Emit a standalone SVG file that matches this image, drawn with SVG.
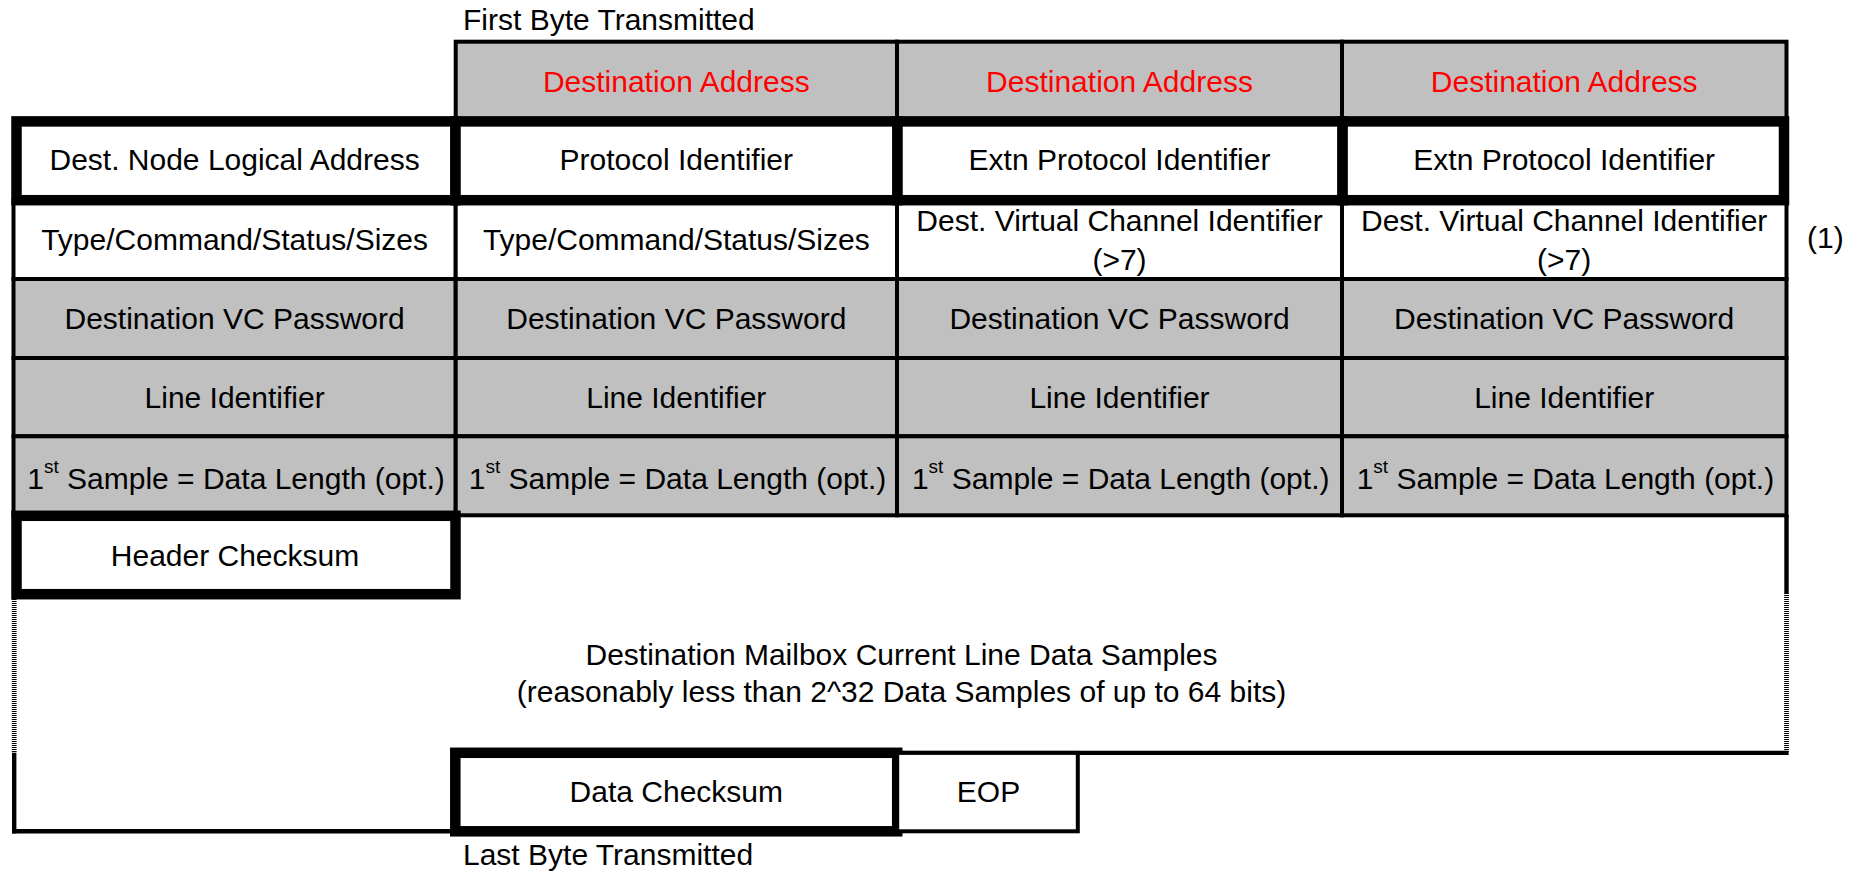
<svg xmlns="http://www.w3.org/2000/svg" width="1854" height="874" viewBox="0 0 1854 874">
  <style>
    text { font-family: "Liberation Sans", Arial, sans-serif; font-size: 30px; fill: #000; text-anchor: middle; }
    text.lbl { text-anchor: start; }
    text.addr { fill: #FF0000; }
    .grey { fill: #C0C0C0; stroke: #000; stroke-width: 4; }
    .white { fill: #FFFFFF; stroke: #000; stroke-width: 4; }
    .thick { fill: #FFFFFF; stroke: #000; stroke-width: 10.5; }
    .edge { fill: none; stroke: #000; stroke-width: 4.4; }
    .hatch { fill: none; stroke: #000; stroke-width: 4.8; stroke-dasharray: 1 1; }
  </style>

  <rect width="1854" height="874" fill="#FFFFFF"/>

  <!-- frame of the data field and continuation edges -->
  <g id="connectors">
    <line class="edge" x1="1786.5" y1="515" x2="1786.5" y2="593"/>
    <line class="hatch" x1="1786.5" y1="593" x2="1786.5" y2="753"/>
    <line class="hatch" x1="14.2" y1="599" x2="14.2" y2="753"/>
    <line class="edge" x1="14.2" y1="752.7" x2="14.2" y2="833.4"/>
    <line class="edge" x1="12" y1="831.3" x2="455" y2="831.3"/>
    <line class="edge" x1="897" y1="752.9" x2="1788.6" y2="752.9"/>
  </g>

  <g id="captions">
    <text class="lbl" x="463" y="29.5">First Byte Transmitted</text>
    <text class="lbl" x="463" y="865">Last Byte Transmitted</text>
    <text class="lbl" x="1807" y="248" font-size="32">(1)</text>
  </g>

  <!-- header row: destination address bytes -->
  <g id="dest-addr-1">
    <rect class="grey" x="455.7" y="41.7" width="441.3" height="79.7"/>
    <text class="addr" x="676.3" y="91.5">Destination Address</text>
  </g>
  <g id="dest-addr-2">
    <rect class="grey" x="897" y="41.7" width="445" height="79.7"/>
    <text class="addr" x="1119.5" y="91.5">Destination Address</text>
  </g>
  <g id="dest-addr-3">
    <rect class="grey" x="1342" y="41.7" width="444.5" height="79.7"/>
    <text class="addr" x="1564.2" y="91.5">Destination Address</text>
  </g>

  <!-- row 2 -->
  <g id="type-cmd-0">
    <rect class="white" x="13.5" y="200" width="442.2" height="79"/>
    <text x="234.6" y="250">Type/Command/Status/Sizes</text>
  </g>
  <g id="type-cmd-1">
    <rect class="white" x="455.7" y="200" width="441.3" height="79"/>
    <text x="676.3" y="250">Type/Command/Status/Sizes</text>
  </g>
  <g id="dest-vc-id-2">
    <rect class="white" x="897" y="200" width="445" height="79"/>
    <text x="1119.5" y="230.5">Dest. Virtual Channel Identifier</text>
    <text x="1119.5" y="270">(&gt;7)</text>
  </g>
  <g id="dest-vc-id-3">
    <rect class="white" x="1342" y="200" width="444.5" height="79"/>
    <text x="1564.2" y="230.5">Dest. Virtual Channel Identifier</text>
    <text x="1564.2" y="270">(&gt;7)</text>
  </g>

  <!-- row 3 -->
  <g id="vc-password-0">
    <rect class="grey" x="13.5" y="279" width="442.2" height="79"/>
    <text x="234.6" y="329">Destination VC Password</text>
  </g>
  <g id="vc-password-1">
    <rect class="grey" x="455.7" y="279" width="441.3" height="79"/>
    <text x="676.3" y="329">Destination VC Password</text>
  </g>
  <g id="vc-password-2">
    <rect class="grey" x="897" y="279" width="445" height="79"/>
    <text x="1119.5" y="329">Destination VC Password</text>
  </g>
  <g id="vc-password-3">
    <rect class="grey" x="1342" y="279" width="444.5" height="79"/>
    <text x="1564.2" y="329">Destination VC Password</text>
  </g>

  <!-- row 4 -->
  <g id="line-id-0">
    <rect class="grey" x="13.5" y="358" width="442.2" height="78.3"/>
    <text x="234.6" y="408">Line Identifier</text>
  </g>
  <g id="line-id-1">
    <rect class="grey" x="455.7" y="358" width="441.3" height="78.3"/>
    <text x="676.3" y="408">Line Identifier</text>
  </g>
  <g id="line-id-2">
    <rect class="grey" x="897" y="358" width="445" height="78.3"/>
    <text x="1119.5" y="408">Line Identifier</text>
  </g>
  <g id="line-id-3">
    <rect class="grey" x="1342" y="358" width="444.5" height="78.3"/>
    <text x="1564.2" y="408">Line Identifier</text>
  </g>

  <!-- row 5 -->
  <g id="first-sample-0">
    <rect class="grey" x="13.5" y="436.3" width="442.2" height="79"/>
    <text x="236" y="489">1<tspan font-size="19" dy="-16">st</tspan><tspan dy="16"> Sample = Data Length (opt.)</tspan></text>
  </g>
  <g id="first-sample-1">
    <rect class="grey" x="455.7" y="436.3" width="441.3" height="79"/>
    <text x="677.5" y="489">1<tspan font-size="19" dy="-16">st</tspan><tspan dy="16"> Sample = Data Length (opt.)</tspan></text>
  </g>
  <g id="first-sample-2">
    <rect class="grey" x="897" y="436.3" width="445" height="79"/>
    <text x="1120.7" y="489">1<tspan font-size="19" dy="-16">st</tspan><tspan dy="16"> Sample = Data Length (opt.)</tspan></text>
  </g>
  <g id="first-sample-3">
    <rect class="grey" x="1342" y="436.3" width="444.5" height="79"/>
    <text x="1565.4" y="489">1<tspan font-size="19" dy="-16">st</tspan><tspan dy="16"> Sample = Data Length (opt.)</tspan></text>
  </g>

  <!-- row 1: heavy-framed fields -->
  <g id="dest-node-addr">
    <rect class="thick" x="16.5" y="121.4" width="439" height="78.8"/>
    <text x="234.6" y="170">Dest. Node Logical Address</text>
  </g>
  <g id="protocol-id">
    <rect class="thick" x="455.5" y="121.4" width="442" height="78.8"/>
    <text x="676.3" y="170">Protocol Identifier</text>
  </g>
  <g id="extn-protocol-id-2">
    <rect class="thick" x="897.5" y="121.4" width="445.1" height="78.8"/>
    <text x="1119.5" y="170">Extn Protocol Identifier</text>
  </g>
  <g id="extn-protocol-id-3">
    <rect class="thick" x="1342.6" y="121.4" width="441.4" height="78.8"/>
    <text x="1564.2" y="170">Extn Protocol Identifier</text>
  </g>

  <g id="header-checksum">
    <rect class="thick" x="16.5" y="515.8" width="439" height="78.4"/>
    <text x="235" y="565.5">Header Checksum</text>
  </g>

  <g id="data-samples">
    <text x="901.5" y="665">Destination Mailbox Current Line Data Samples</text>
    <text x="901.5" y="702">(reasonably less than 2^32 Data Samples of up to 64 bits)</text>
  </g>

  <g id="data-checksum">
    <rect class="thick" x="455.3" y="752.8" width="441.9" height="78.5"/>
    <text x="676.3" y="802">Data Checksum</text>
  </g>

  <g id="eop">
    <rect class="white" x="897.2" y="752.9" width="180.6" height="78.4"/>
    <text x="988.5" y="802">EOP</text>
  </g>
</svg>
